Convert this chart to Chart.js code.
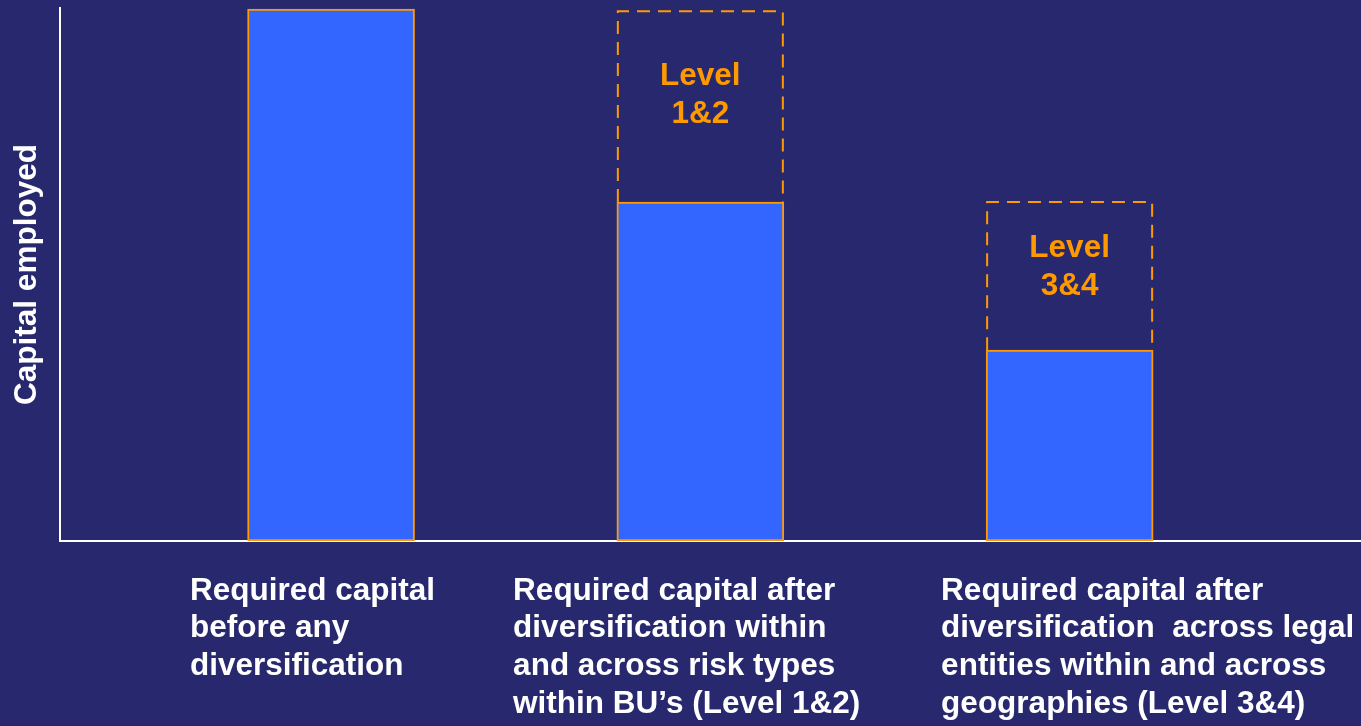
<!DOCTYPE html>
<html>
<head>
<meta charset="utf-8">
<script src="https://cdn.jsdelivr.net/npm/chart.js@4.4.1/dist/chart.umd.min.js"></script>
<style>
  html, body { margin: 0; padding: 0; background: #27286e; }
  #wrap { width: 1361px; height: 726px; }
</style>
</head>
<body>
<div id="wrap"><canvas id="capitalChart"></canvas></div>
<script>
// categories, one array of lines each (as they are broken on the slide)
var categories = [
    ['Required capital', 'before any', 'diversification'],
    ['Required capital after', 'diversification within', 'and across risk types', 'within BU\u2019s (Level 1&2)'],
    ['Required capital after', 'diversification  across legal', 'entities within and across', 'geographies (Level 3&4)']
];
// capital after each step (solid bars)
var capitalAfter = [99.8, 63.6, 35.8];
// capital before each step (top of the dashed box)
var capitalBefore = [null, 99.4, 63.6];
// text inside the dashed boxes
var benefitLabels = [null, ['Level', '1&2'], ['Level', '3&4']];
var yTitle = 'Capital employed';

var BLUE = '#3366ff';
var ORANGE = '#ff9900';
var FONT = { family: '"Liberation Sans", Arial, sans-serif', size: 31.5, weight: 'bold', lineHeight: 1.2 };
var X_MIN = 0.266, X_MAX = 3.789;
var labelStarts = [0.618, 1.493, 2.652];

Chart.defaults.font.family = FONT.family;

/**
 * Dashed outline + text for the diversification benefit boxes
 */
var dashedBoxes = {
    id: 'dashedBoxes',
    afterDatasetsDraw: function (chart) {
        var ctx = chart.ctx;
        var meta = chart.getDatasetMeta(1);
        ctx.save();
        meta.data.forEach(function (bar, i) {
            if (capitalBefore[i] == null) return;
            var p = bar.getProps(['x', 'y', 'base', 'width'], true);
            var left = p.x - p.width / 2 + 1, right = p.x + p.width / 2 - 1;
            var top = Math.min(p.y, p.base), bottom = Math.max(p.y, p.base);

            ctx.strokeStyle = ORANGE;
            ctx.lineWidth = 2;
            ctx.setLineDash([13, 8]);
            ctx.beginPath();
            ctx.moveTo(left, bottom);
            ctx.lineTo(left, top);
            ctx.lineTo(right, top);
            ctx.lineTo(right, bottom);
            ctx.stroke();

            var lines = benefitLabels[i];
            if (!lines) return;
            var lh = 37.5;
            var cy = top + (bottom - top) * 0.44 - (lines.length - 1) * lh / 2;
            ctx.setLineDash([]);
            ctx.fillStyle = ORANGE;
            ctx.font = 'bold ' + FONT.size + 'px ' + FONT.family;
            ctx.textAlign = 'center';
            ctx.textBaseline = 'middle';
            lines.forEach(function (t, k) {
                ctx.fillText(t, p.x, cy + k * lh);
            });
        });
        ctx.restore();
    }
};

var ctx = document.getElementById('capitalChart').getContext('2d');
new Chart(ctx, {
    type: 'bar',
    data: {
        datasets: [{
            label: 'Required capital',
            data: capitalAfter.map(function (v, i) { return { x: i + 1, y: v }; }),
            backgroundColor: BLUE,
            borderColor: ORANGE,
            borderWidth: 2,
            borderSkipped: false,
            barThickness: 167,
            grouped: false
        }, {
            label: 'Diversification benefit',
            data: capitalBefore.map(function (v, i) {
                return v == null ? { x: i + 1, y: null } : { x: i + 1, y: [capitalAfter[i], v] };
            }),
            backgroundColor: 'rgba(0,0,0,0)',
            borderWidth: 0,
            barThickness: 167,
            grouped: false
        }]
    },
    options: {
        responsive: true,
        maintainAspectRatio: false,
        animation: false,
        layout: { padding: { top: 8, right: 0, left: 0, bottom: 0 } },
        plugins: {
            legend: { display: false },
            tooltip: { enabled: false }
        },
        scales: {
            x: {
                type: 'linear',
                position: 'bottom',
                offset: false,
                min: X_MIN,
                max: X_MAX,
                grid: { display: false, drawTicks: false },
                border: { display: true, color: '#ffffff', width: 2 },
                ticks: { display: false }
            },
            xl: {
                type: 'linear',
                position: 'bottom',
                offset: false,
                min: X_MIN,
                max: X_MAX,
                grid: { display: false, drawTicks: false },
                border: { display: false },
                afterBuildTicks: function (scale) {
                    scale.ticks = labelStarts.map(function (v) { return { value: v }; });
                },
                afterFit: function (scale) {
                    scale.height = 185;
                    scale.paddingLeft = 0;
                    scale.paddingRight = 0;
                },
                ticks: {
                    autoSkip: false,
                    maxRotation: 0,
                    minRotation: 0,
                    align: 'start',
                    padding: 31,
                    color: '#ffffff',
                    font: FONT,
                    callback: function (value, index) {
                        return categories[index];
                    }
                }
            },
            y: {
                min: 0,
                max: 100,
                grid: { display: false, drawTicks: false },
                border: { display: true, color: '#ffffff', width: 2 },
                ticks: { display: false },
                title: {
                    display: true,
                    text: yTitle,
                    color: '#ffffff',
                    font: FONT,
                    padding: { top: 8, bottom: 0 }
                },
                afterFit: function (scale) {
                    scale.width = 60;
                }
            }
        }
    },
    plugins: [dashedBoxes]
});
</script>
</body>
</html>
